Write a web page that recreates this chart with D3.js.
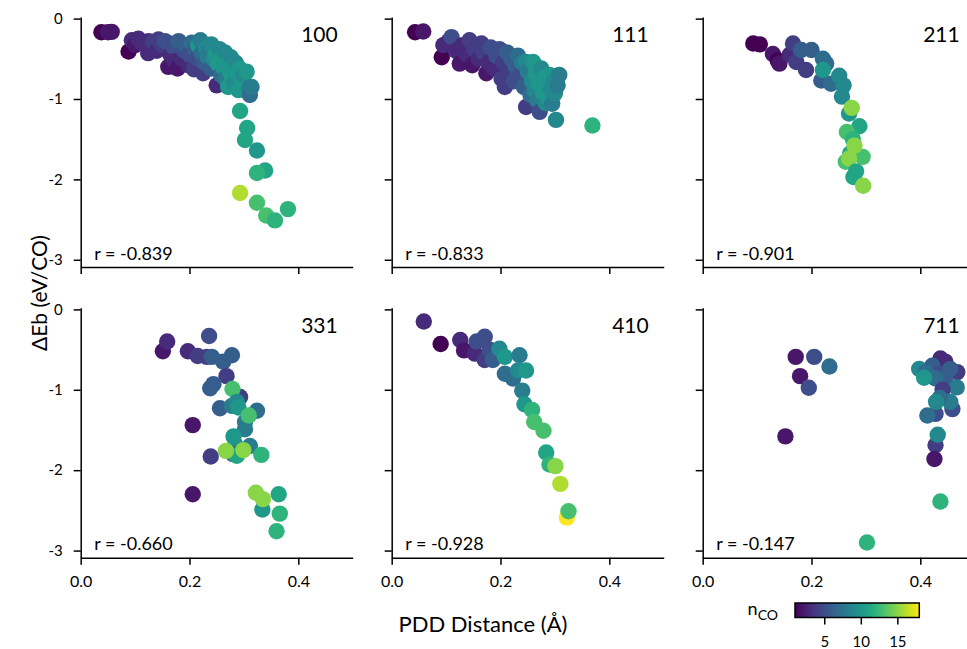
<!DOCTYPE html>
<html>
<head>
<meta charset="utf-8">
<script src="https://cdn.jsdelivr.net/npm/d3@7"></script>
<style>
  html, body { margin: 0; padding: 0; background: #fff; }
  svg { display: block; }
  text { font-family: Lato, "Liberation Sans", sans-serif; fill: #000; }
</style>
</head>
<body>
<svg id="chart" width="967" height="649"></svg>
<script>
// Facet names (surface orientation) and correlation coefficients
const facets = ["100", "111", "211", "331", "410", "711"];
const rValues = ["-0.839", "-0.833", "-0.901", "-0.660", "-0.928", "-0.147"];

// Axis ticks
const xTicks = [0.0, 0.2, 0.4];
const yTicks = [0, -1, -2, -3];
const cbarTicks = [5, 10, 15];
const ncoRange = [1, 18];

// (100)
const pdd100 = [0.038,0.050,0.057,0.088,0.094,0.100,0.106,0.112,0.124,0.125,0.133,0.140,0.143,0.150,
  0.155,0.161,0.161,0.165,0.170,0.173,0.178,0.180,0.186,0.190,0.192,0.198,0.200,0.204,0.208,0.210,
  0.215,0.216,0.220,0.222,0.225,0.228,0.230,0.233,0.236,0.240,0.240,0.244,0.248,0.250,0.252,0.255,
  0.258,0.260,0.262,0.265,0.266,0.270,0.271,0.274,0.276,0.278,0.280,0.283,0.285,0.287,0.290,0.292,
  0.295,0.300,0.305,0.310,0.311,0.314,
  0.293,0.306,0.302,0.324,0.339,0.324,0.293,0.324,0.341,0.357,0.381];
const eb100 = [-0.17,-0.17,-0.165,-0.41,-0.27,-0.33,-0.25,-0.30,-0.43,-0.28,-0.29,-0.40,-0.26,-0.33,
  -0.28,-0.31,-0.60,-0.45,-0.35,-0.53,-0.62,-0.28,-0.50,-0.40,-0.33,-0.58,-0.45,-0.30,-0.63,-0.38,
  -0.50,-0.33,-0.27,-0.43,-0.68,-0.55,-0.36,-0.47,-0.40,-0.62,-0.32,-0.50,-0.44,-0.83,-0.56,-0.38,
  -0.70,-0.48,-0.60,-0.42,-0.75,-0.55,-0.85,-0.66,-0.48,-0.72,-0.60,-0.80,-0.55,-0.68,-0.89,-0.62,
  -0.75,-0.70,-0.66,-0.87,-0.95,-0.85,
  -1.15,-1.36,-1.51,-1.64,-1.89,-1.92,-2.17,-2.29,-2.45,-2.51,-2.37];
const nco100 = [1,2,2,1,3,2,3,3,3,3,4,3,4,4,
  5,5,2,3,5,3,2,6,3,5,6,3,5,7,4,6,
  5,10,8,7,4,6,9,8,8,6,9,9,10,3,10,9,
  7,10,10,9,8,10,10,10,9,10,10,9,9,10,10,10,
  10,9,10,8,7,8,
  11,11,11,10,11,12,16,13,13,12,12];

// (111)
const pdd111 = [0.043,0.058,0.092,0.095,0.105,0.110,0.118,0.125,0.130,0.138,
  0.143,0.148,0.152,0.160,0.165,0.168,0.174,0.178,0.182,0.188,
  0.192,0.198,0.202,0.205,0.208,0.212,0.216,0.220,0.224,0.228,
  0.232,0.236,0.240,0.243,0.247,0.250,0.247,0.255,0.258,0.260,
  0.263,0.265,0.268,0.270,0.272,0.275,0.278,0.280,0.283,0.285,
  0.288,0.290,0.292,0.295,0.298,0.300,0.302,0.305,0.308,0.369];
const eb111 = [-0.17,-0.16,-0.48,-0.33,-0.28,-0.23,-0.40,-0.56,-0.33,-0.45,
  -0.27,-0.58,-0.38,-0.50,-0.31,-0.42,-0.68,-0.55,-0.36,-0.62,
  -0.46,-0.38,-0.75,-0.55,-0.85,-0.42,-0.66,-0.50,-0.78,-0.60,
  -0.46,-0.70,-0.55,-0.85,-0.54,-0.66,-1.10,-0.95,-0.78,-0.54,
  -0.90,-0.68,-1.02,-0.80,-1.16,-0.62,-0.92,-0.74,-1.05,-0.85,
  -0.98,-0.70,-0.88,-1.06,-0.78,-0.93,-1.26,-0.83,-0.70,-1.33];
const nco111 = [1,2,1,3,3,5,3,2,3,3,
  4,2,4,3,4,4,2,3,5,3,
  5,5,4,4,4,6,4,6,5,6,
  7,5,8,6,9,8,4,7,9,10,
  9,10,8,10,5,9,10,10,9,10,
  10,10,9,8,9,9,9,8,8,12];

// (211)
const pdd211 = [0.093,0.105,0.129,0.138,0.141,0.160,0.166,0.172,0.181,0.200,0.190,0.221,0.227,0.218,
  0.236,0.221,0.251,0.259,0.256,0.269,0.274,0.288,0.265,0.276,0.271,0.294,0.263,0.279,0.269,0.282,
  0.277,0.295];
const eb211 = [-0.31,-0.32,-0.44,-0.52,-0.56,-0.45,-0.31,-0.54,-0.39,-0.39,-0.64,-0.50,-0.56,-0.77,
  -0.81,-0.64,-0.71,-0.83,-0.97,-1.18,-1.11,-1.34,-1.41,-1.50,-1.68,-1.72,-1.78,-1.58,-1.74,-1.90,
  -1.97,-2.08];
const nco211 = [1,1,2,1,2,3,4,4,6,6,4,7,7,6,
  7,10,9,9,9,10,15,11,13,12,11,13,13,15,15,11,
  11,15];

// (331)
const pdd331 = [0.151,0.159,0.197,0.215,0.236,0.232,0.241,0.262,0.278,0.268,0.244,0.238,0.293,0.279,
  0.256,0.278,0.287,0.290,0.324,0.302,0.302,0.309,0.206,0.311,0.284,0.281,0.280,0.287,0.267,0.299,
  0.332,0.239,0.206,0.334,0.364,0.322,0.335,0.366,0.360];
const eb331 = [-0.52,-0.40,-0.52,-0.58,-0.33,-0.59,-0.59,-0.65,-0.57,-0.83,-0.93,-0.98,-1.09,-0.99,
  -1.23,-1.20,-1.15,-1.22,-1.26,-1.40,-1.49,-1.32,-1.44,-1.70,-1.68,-1.58,-1.80,-1.82,-1.76,-1.75,
  -1.81,-1.83,-2.30,-2.49,-2.30,-2.28,-2.36,-2.54,-2.76];
const nco331 = [2,3,3,4,5,4,6,6,6,4,6,6,4,13,
  6,8,9,10,7,8,8,13,2,8,9,10,7,11,15,15,
  12,4,2,10,11,15,15,12,12];

// (410)
const pdd410 = [0.059,0.090,0.126,0.133,0.153,0.156,0.171,0.171,0.180,0.186,0.198,0.208,0.208,0.223,
  0.235,0.232,0.247,0.240,0.244,0.258,0.262,0.279,0.284,0.290,0.301,0.310,0.322,0.325];
const eb410 = [-0.15,-0.43,-0.38,-0.51,-0.55,-0.40,-0.63,-0.34,-0.50,-0.63,-0.49,-0.80,-0.59,-0.86,
  -0.57,-0.76,-0.76,-1.01,-1.18,-1.25,-1.40,-1.51,-1.78,-1.93,-1.95,-2.17,-2.59,-2.51];
const nco410 = [3,1,3,2,3,5,4,5,5,6,9,7,10,7,
  8,9,10,8,10,12,13,13,11,12,15,16,18,13];

// (711)
const pdd711 = [0.171,0.205,0.233,0.179,0.195,0.152,0.302,0.437,
  0.437,0.446,0.422,0.468,0.433,0.446,0.455,0.398,0.410,0.428,0.407,0.467,0.441,0.459,
  0.455,0.428,0.413,0.436,0.429,0.428,0.426,0.432];
const eb711 = [-0.59,-0.59,-0.71,-0.83,-0.975,-1.58,-2.90,-2.39,
  -0.61,-0.65,-0.70,-0.78,-0.80,-0.86,-0.74,-0.74,-0.78,-0.86,-0.85,-0.97,-1.00,-1.24,
  -1.15,-1.30,-1.32,-1.10,-1.15,-1.69,-1.86,-1.56];
const nco711 = [2,5,7,2,5,2,12,12,
  3,3,6,4,5,6,6,9,7,7,10,8,4,5,
  8,5,7,7,9,4,2,9];

const panelData = [
  [pdd100, eb100, nco100],
  [pdd111, eb111, nco111],
  [pdd211, eb211, nco211],
  [pdd331, eb331, nco331],
  [pdd410, eb410, nco410],
  [pdd711, eb711, nco711]
];

const svg = d3.select("#chart");
const colLeft = [80.7, 391.7, 702.7];
const rowTop = [17, 307.8];
const W = 272, H = 250;
const FONT = "Lato, 'Liberation Sans', sans-serif";

const color = d3.scaleSequential(d3.interpolateViridis).domain(ncoRange);

facets.forEach((name, i) => {
  const col = i % 3, row = Math.floor(i / 3);
  const left = colLeft[col], top = rowTop[row];
  const x = d3.scaleLinear().domain([0, 0.5]).range([left, left + W]);
  const y = d3.scaleLinear().domain([0.02, -3.09]).range([top, top + H]);
  const [px, py, pn] = panelData[i];
  const g = svg.append("g");

  // markers
  g.append("g").selectAll("circle")
    .data(d3.range(px.length))
    .join("circle")
    .attr("cx", k => x(px[k]))
    .attr("cy", k => y(py[k]))
    .attr("r", 8.2)
    .attr("fill", k => color(pn[k]));

  // axes
  const yAxis = d3.axisLeft(y).tickValues(yTicks).tickSize(7).tickSizeOuter(0).tickPadding(11)
    .tickFormat(col === 0 ? (d => String(d)) : (() => ""));
  const xAxis = d3.axisBottom(x).tickValues(xTicks).tickSize(7).tickSizeOuter(0).tickPadding(11)
    .tickFormat(row === 1 ? d3.format(".1f") : (() => ""));

  const ya = g.append("g").attr("transform", `translate(${left},0)`).call(yAxis);
  const xa = g.append("g").attr("transform", `translate(0,${top + H})`).call(xAxis);
  [ya, xa].forEach(a => {
    a.selectAll("path, line").attr("stroke", "#000").attr("stroke-width", 1.5);
    a.selectAll("text").style("font-family", FONT).attr("fill", "#000");
  });
  ya.selectAll("text").attr("font-size", 15);
  xa.selectAll("text").attr("font-size", 16);

  // facet label
  g.append("text")
    .attr("x", left + W - 15).attr("y", top + 25)
    .attr("text-anchor", "end")
    .attr("font-size", 21)
    .text(name);

  // correlation coefficient
  g.append("text")
    .attr("x", left + 13.5).attr("y", top + 242.5)
    .attr("font-size", 18)
    .text(`r = ${rValues[i]}`);
});

// shared axis labels
svg.append("text")
  .attr("x", 483).attr("y", 632)
  .attr("text-anchor", "middle")
  .attr("font-size", 22)
  .text("PDD Distance (Å)");

svg.append("text")
  .attr("transform", "translate(47,293) rotate(-90)")
  .attr("text-anchor", "middle")
  .attr("font-size", 21)
  .text("ΔEb (eV/CO)");

// colour bar
const cbX = d3.scaleLinear().domain(ncoRange).range([795, 919.3]);
const defs = svg.append("defs");
const grad = defs.append("linearGradient").attr("id", "viridisGrad")
  .attr("x1", "0%").attr("x2", "100%").attr("y1", "0%").attr("y2", "0%");
d3.range(0, 1.0001, 0.05).forEach(t => {
  grad.append("stop").attr("offset", `${t * 100}%`).attr("stop-color", d3.interpolateViridis(t));
});
const cbTop = 603, cbH = 14.5;
svg.append("rect")
  .attr("x", cbX(ncoRange[0])).attr("y", cbTop)
  .attr("width", cbX(ncoRange[1]) - cbX(ncoRange[0])).attr("height", cbH)
  .attr("fill", "url(#viridisGrad)")
  .attr("stroke", "#000").attr("stroke-width", 1.5);
const cbAxis = d3.axisBottom(cbX).tickValues(cbarTicks).tickSize(7).tickSizeOuter(0).tickPadding(12);
const cba = svg.append("g").attr("transform", `translate(0,${cbTop + cbH})`).call(cbAxis);
cba.select(".domain").remove();
cba.selectAll("line").attr("stroke", "#000").attr("stroke-width", 1.5);
cba.selectAll("text").style("font-family", FONT).attr("font-size", 15).attr("fill", "#000");

const cbLabel = svg.append("text").attr("x", 778).attr("y", 615).attr("text-anchor", "end");
cbLabel.append("tspan").attr("font-size", 18).text("n");
cbLabel.append("tspan").attr("font-size", 14).attr("dy", 5).text("CO");
</script>
</body>
</html>
